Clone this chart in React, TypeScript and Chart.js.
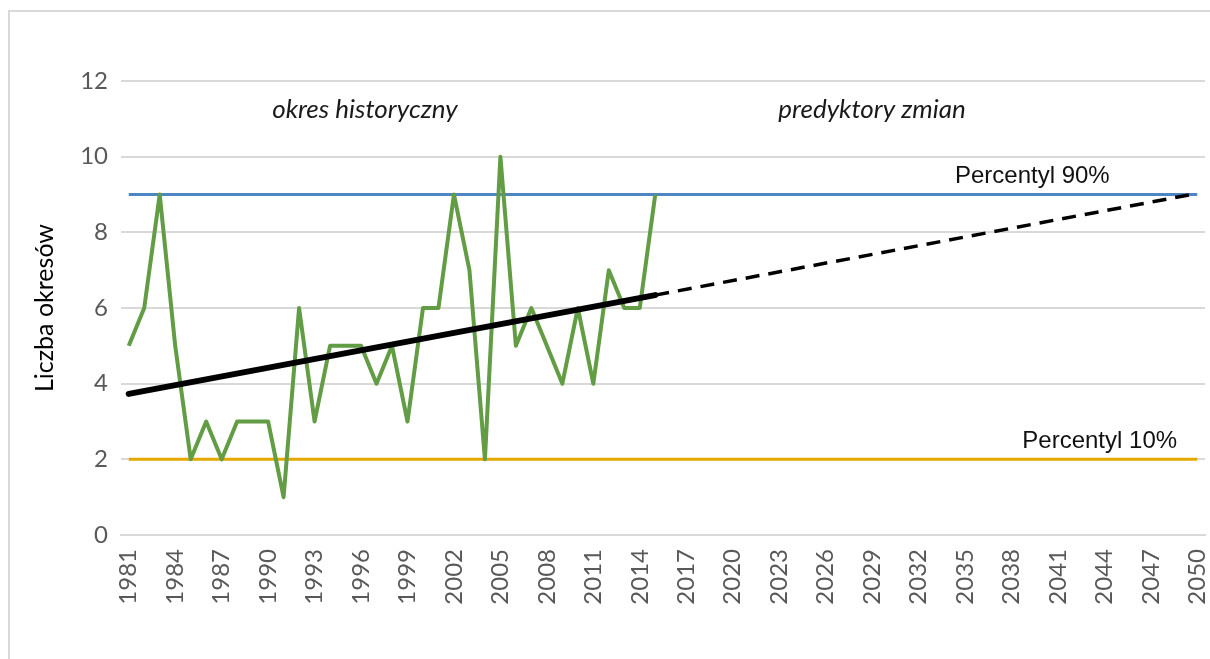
import React, { useEffect, useRef } from "react";
import { Chart, registerables } from "chart.js";

Chart.register(...registerables);

const years = [
  "1981", "1982", "1983", "1984", "1985", "1986", "1987", "1988", "1989", "1990",
  "1991", "1992", "1993", "1994", "1995", "1996", "1997", "1998", "1999", "2000",
  "2001", "2002", "2003", "2004", "2005", "2006", "2007", "2008", "2009", "2010",
  "2011", "2012", "2013", "2014", "2015", "2016", "2017", "2018", "2019", "2020",
  "2021", "2022", "2023", "2024", "2025", "2026", "2027", "2028", "2029", "2030",
  "2031", "2032", "2033", "2034", "2035", "2036", "2037", "2038", "2039", "2040",
  "2041", "2042", "2043", "2044", "2045", "2046", "2047", "2048", "2049", "2050",
];

// observed number of periods 1981-2015
const observed = [
  5, 6, 9, 5, 2, 3, 2, 3, 3, 3,
  1, 6, 3, 5, 5, 5, 4, 5, 3, 6,
  6, 9, 7, 2, 10, 5, 6, 5, 4, 6,
  4, 7, 6, 6, 9,
];

const trendHistYears = ["1981", "2015"];
const trendHistValues = [3.73, 6.34];
const trendProjYears = ["2015", "2050"];
const trendProjValues = [6.34, 9.03];

const p90Years = ["1981", "2050"];
const p90Values = [9, 9];
const p10Years = ["1981", "2050"];
const p10Values = [2, 2];

const yMin = 0;
const yMax = 12;
const yStep = 2;

const FONT = "Lato, 'Open Sans', sans-serif";

const toPoints = (xs: string[], ys: number[]) => xs.map((x, i) => ({ x, y: ys[i] }));

const annotations = {
  id: "annotations",
  afterDatasetsDraw(chart: any) {
    const { ctx, scales } = chart;
    const x = scales.x;
    const y = scales.y;
    ctx.save();
    ctx.textAlign = "center";
    ctx.textBaseline = "alphabetic";
    ctx.fillStyle = "#1a1a1a";
    ctx.font = `italic 26px ${FONT}`;
    ctx.fillText("okres historyczny", x.getPixelForValue(15.25), y.getPixelForValue(11.02));
    ctx.fillText("predyktory zmian", x.getPixelForValue(48.0), y.getPixelForValue(11.02));
    ctx.fillStyle = "#111111";
    ctx.font = `24px 'Liberation Sans', Arial, sans-serif`;
    ctx.fillText("Percentyl 90%", x.getPixelForValue(58.35), y.getPixelForValue(9.3));
    ctx.fillText("Percentyl 10%", x.getPixelForValue(62.7), y.getPixelForValue(2.3));
    ctx.restore();
  },
};

export default function App() {
  const ref = useRef<HTMLCanvasElement | null>(null);

  useEffect(() => {
    if (!ref.current) return;
    const chart = new Chart(ref.current, {
      type: "line",
      data: {
        labels: years,
        datasets: [
          {
            label: "trend",
            data: toPoints(trendHistYears, trendHistValues) as any,
            borderColor: "#000000",
            borderWidth: 6,
            pointRadius: 0,
            borderCapStyle: "round",
          },
          {
            label: "trend projekcja",
            data: toPoints(trendProjYears, trendProjValues) as any,
            borderColor: "#000000",
            borderWidth: 3.5,
            borderDash: [14, 9],
            pointRadius: 0,
          },
          {
            label: "Liczba okresów",
            data: observed,
            borderColor: "#629C44",
            borderWidth: 4,
            borderJoinStyle: "round",
            pointRadius: 0,
            tension: 0,
          },
          {
            label: "Percentyl 90%",
            data: toPoints(p90Years, p90Values) as any,
            borderColor: "#4E86C4",
            borderWidth: 3,
            pointRadius: 0,
          },
          {
            label: "Percentyl 10%",
            data: toPoints(p10Years, p10Values) as any,
            borderColor: "#E5A800",
            borderWidth: 3,
            pointRadius: 0,
          },
        ],
      },
      options: {
        responsive: false,
        animation: false,
        devicePixelRatio: 1,
        layout: { padding: { top: 81, right: 5, left: 0, bottom: 0 } },
        plugins: {
          legend: { display: false },
          tooltip: { enabled: false },
        },
        scales: {
          x: {
            type: "category",
            offset: true,
            grid: { display: false, drawTicks: false },
            border: { display: true, color: "#d9d9d9", width: 2 },
            ticks: {
              autoSkip: false,
              minRotation: 90,
              maxRotation: 90,
              padding: 14,
              color: "#595959",
              font: { family: FONT, size: 24 },
              callback: (_v: any, i: number) => (i % 3 === 0 ? years[i] : null),
            },
            afterFit: (s: any) => {
              s.height = 124;
              s.paddingLeft = 0;
              s.paddingRight = 0;
            },
          },
          y: {
            min: yMin,
            max: yMax,
            ticks: {
              stepSize: yStep,
              padding: 13,
              color: "#595959",
              font: { family: FONT, size: 24 },
            },
            grid: { color: "#d9d9d9", lineWidth: 2, drawTicks: false },
            border: { display: false },
            title: {
              display: true,
              text: "Liczba okresów",
              color: "#000000",
              font: { family: FONT, size: 25 },
              padding: { top: 30, bottom: 0 },
            },
            afterFit: (s: any) => {
              s.width = 121;
              s.paddingTop = 0;
              s.paddingBottom = 0;
            },
          },
        },
      },
      plugins: [annotations],
    });
    return () => chart.destroy();
  }, []);

  return (
    <div
      style={{
        position: "fixed",
        left: 0,
        top: 0,
        width: 1210,
        height: 659,
        overflow: "hidden",
        background: "#ffffff",
      }}
    >
      <div
        style={{
          position: "absolute",
          left: 8,
          top: 10,
          width: 1300,
          height: 800,
          border: "2px solid #d9d9d9",
          boxSizing: "border-box",
        }}
      />
      <canvas
        ref={ref}
        width={1210}
        height={659}
        style={{ position: "absolute", left: 0, top: 0, width: 1210, height: 659 }}
      />
    </div>
  );
}
